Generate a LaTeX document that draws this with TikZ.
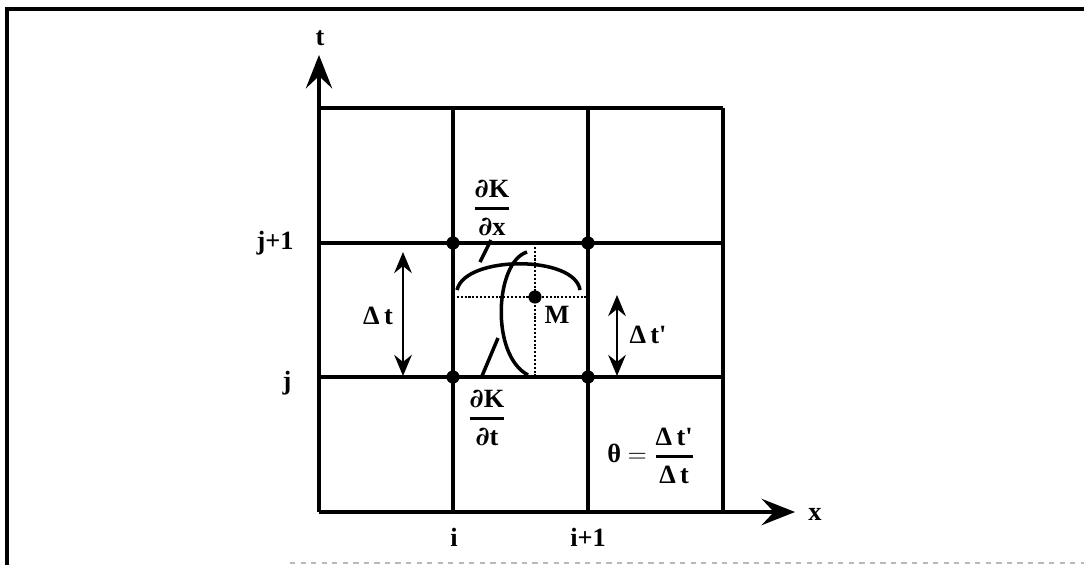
\documentclass[tikz,border=0pt]{standalone}
\usepackage{fontspec}
\usepackage{amsmath}
\setmainfont{Liberation Serif}
\newfontfamily\pdfont{DejaVu Serif}
\newcommand{\pdiff}{{\pdfont\bfseries ∂}}
\usetikzlibrary{arrows.meta}
\begin{document}
\begin{tikzpicture}[x=0.02cm,y=-0.02cm,
  gridline/.style={line width=1.8pt},
  frameline/.style={line width=2pt},
  dot/.style={circle,fill,inner sep=0pt,minimum size=7.5pt},
  lbl/.style={font=\fontsize{15}{18}\selectfont\bfseries,inner sep=0pt},
  axisarrow/.style={line width=1.8pt,-{Stealth[length=19pt,width=15pt,inset=7pt]}},
  dimarrow/.style={line width=1.5pt,{Stealth[length=12pt,width=10pt,inset=4pt]}-{Stealth[length=12pt,width=10pt,inset=4pt]}},
  hint/.style={densely dotted,line width=1.2pt},
  curveline/.style={line width=2pt}]
\useasboundingbox (0,0) rectangle (1084,565);
% frame
\draw[frameline] (7,565) -- (7,9) -- (1084,9);
\draw[gray!55,dashed,line width=1pt] (290,563) -- (1084,563);
% axes
\coordinate (O) at (319,512);
\coordinate (Ttip) at (319,55);
\coordinate (Xtip) at (795,512);
\draw[axisarrow] (O) -- (Ttip);
\draw[axisarrow] (O) -- (Xtip);
% grid
\foreach \gx in {453,588,723} \draw[gridline] (\gx,108) -- (\gx,512);
\foreach \gy in {108,243,377} \draw[gridline] (319,\gy) -- (723,\gy);
% points
\node[dot] (p11) at (453,243) {};
\node[dot] (p21) at (588,243) {};
\node[dot] (p10) at (453,377) {};
\node[dot] (p20) at (588,377) {};
\node[dot] (M) at (535,297) {};
% dotted lines through M
\coordinate (hl) at (453,297);
\coordinate (hr) at (588,297);
\coordinate (vt) at (535,243);
\coordinate (vb) at (535,377);
\draw[hint] (hl) -- (hr);
\draw[hint] (vt) -- (vb);
% curves
\draw[curveline] (457,290) .. controls (465,255) and (575,255) .. (580,290);
\draw[curveline] (527,252) .. controls (495,262) and (490,355) .. (528,375);
% dimension arrows
\coordinate (d1t) at (403,252);
\coordinate (d1b) at (403,376);
\draw[dimarrow] (d1t) -- (d1b);
\coordinate (d2t) at (617,295);
\coordinate (d2b) at (617,376);
\draw[dimarrow] (d2t) -- (d2b);
% labels
\node[lbl] (tl) at (320,38) {t};
\node[lbl] (xl) at (815,514) {x};
\node[lbl] (jp1) at (275,243) {j+1};
\node[lbl] (j) at (287,383) {j};
\node[lbl] (i) at (454,537) {i};
\node[lbl] (ip1) at (588,537) {i+1};
\node[lbl] (dt) at (378,316) {Δ\,t};
\node[lbl] (dtp) at (648,335) {Δ\,t\textquotesingle};
\node[lbl] (Ml) at (557,315) {M};
\node[lbl] (dKdx) at (492,208) {$\genfrac{}{}{1.5pt}{0}{\text{\pdiff K}}{\text{\pdiff x}}$};
\node[lbl] (dKdt) at (487,418) {$\genfrac{}{}{1.5pt}{0}{\text{\pdiff K}}{\text{\pdiff t}}$};
\node[lbl] (theta) at (651,456) {θ $=$ $\genfrac{}{}{1.5pt}{0}{\text{Δ\,t\textquotesingle}}{\text{Δ\,t}}$};
% leaders
\coordinate (lx1) at (480,262);
\coordinate (lx2) at (491,240);
\draw[curveline] (lx1) -- (lx2);
\coordinate (lt1) at (482,376);
\coordinate (lt2) at (498,338);
\draw[curveline] (lt1) -- (lt2);
\end{tikzpicture}
\end{document}
